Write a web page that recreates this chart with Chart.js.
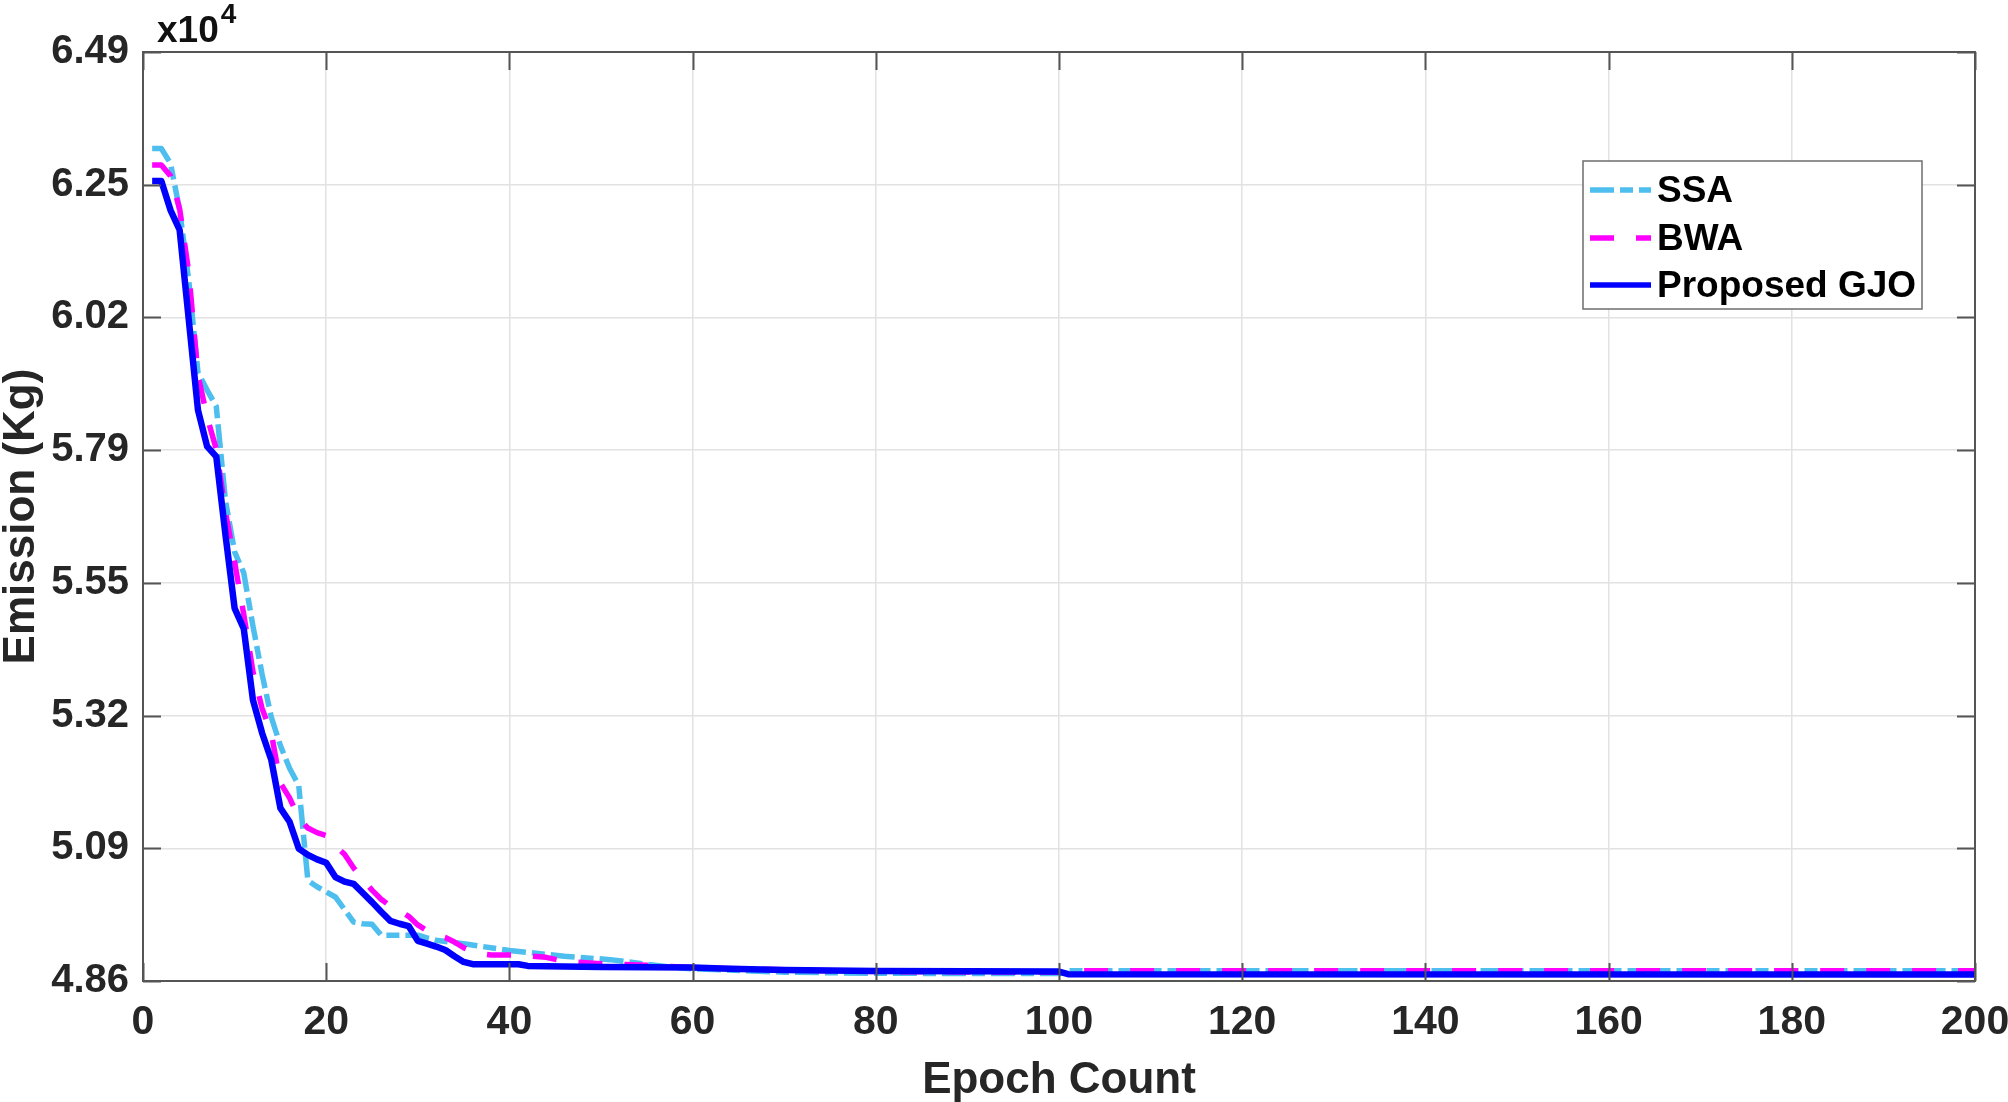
<!DOCTYPE html>
<html>
<head>
<meta charset="utf-8">
<title>Emission convergence</title>
<script src="https://cdn.jsdelivr.net/npm/chart.js@4.4.1/dist/chart.umd.min.js"></script>
<style>
  html, body { margin: 0; padding: 0; background: #fff; }
  #wrap { width: 2008px; height: 1102px; }
</style>
</head>
<body>
<div id="wrap"><canvas id="chart" width="2008" height="1102"></canvas></div>
<script>
"use strict";
// Emission (x10^4 Kg) vs epoch for three optimisers.

const yTickLabels = ["4.86", "5.09", "5.32", "5.55", "5.79", "6.02", "6.25", "6.49"];
const yMin = 4.8565, yMax = 6.4875;
const xMin = 0, xMax = 200, xStep = 20;

const ssaEpochs = [1, 2, 3, 4, 5, 6, 7, 8, 9, 10, 11, 12, 13, 14, 15, 16, 17, 18, 19, 20,
  21, 22, 23, 24, 25, 26, 30, 31, 32, 35, 40, 46, 51, 55, 58, 60, 70, 80, 100, 101, 200];
const ssaEmission = [6.318, 6.318, 6.292, 6.210, 6.085, 5.925, 5.894, 5.865, 5.700, 5.610,
  5.573, 5.480, 5.395, 5.320, 5.270, 5.230, 5.200, 5.033, 5.022, 5.013,
  5.004, 4.982, 4.960, 4.957, 4.956, 4.937, 4.937, 4.932, 4.928, 4.922, 4.910, 4.900, 4.894,
  4.886, 4.880, 4.878, 4.872, 4.870, 4.8695, 4.8745, 4.8745];

const bwaEpochs = [1, 2, 3, 4, 5, 6, 7, 8, 9, 10, 11, 12, 13, 14, 15, 16, 17, 18, 19, 20,
  21, 22, 23, 24, 25, 26, 27, 28, 29, 30, 31, 32, 33, 34, 35, 36, 37, 38, 41, 44, 46, 50,
  55, 60, 80, 100, 101, 200];
const bwaEmission = [6.289, 6.289, 6.270, 6.212, 6.100, 5.920, 5.847, 5.790, 5.680, 5.592,
  5.500, 5.400, 5.335, 5.292, 5.204, 5.178, 5.143, 5.125, 5.117, 5.112,
  5.094, 5.079, 5.055, 5.035, 5.016, 5.000, 4.988, 4.980, 4.970, 4.955, 4.945, 4.938, 4.933,
  4.925, 4.915, 4.908, 4.904, 4.902, 4.902, 4.898, 4.891, 4.887,
  4.884, 4.880, 4.873, 4.872, 4.8745, 4.8745];

const gjoEpochs = [1, 2, 3, 4, 5, 6, 7, 8, 9, 10, 11, 12, 13, 14, 15, 16, 17, 18, 19, 20,
  21, 22, 23, 24, 25, 26, 27, 28, 29, 30, 31, 32, 33, 34, 35, 36, 41, 42, 50, 60, 64, 70,
  80, 100, 101, 200];
const gjoEmission = [6.261, 6.261, 6.210, 6.175, 6.017, 5.859, 5.795, 5.777, 5.640, 5.511,
  5.475, 5.350, 5.292, 5.245, 5.160, 5.136, 5.089, 5.078, 5.070, 5.064,
  5.039, 5.031, 5.027, 5.011, 4.995, 4.978, 4.962, 4.957, 4.953, 4.927, 4.922, 4.917, 4.911,
  4.900, 4.890, 4.886, 4.886, 4.883, 4.881, 4.880, 4.878, 4.876,
  4.874, 4.873, 4.8685, 4.868];

const FONT = "'Liberation Sans', Arial, Helvetica, sans-serif";
const INK = "#262626", BOX = "#555555";

const pts = (xs, ys) => xs.map((x, i) => ({ x, y: ys[i] }));

// axes box, inward ticks, exponent label and the boxed legend (MATLAB look)
const frame = {
  id: "frame",
  afterDraw(chart) {
    const { ctx, chartArea: a, scales: { x, y } } = chart;
    ctx.save();
    ctx.strokeStyle = BOX; ctx.lineWidth = 2; ctx.setLineDash([]);
    ctx.strokeRect(a.left, a.top, a.right - a.left, a.bottom - a.top);
    const tk = 18;
    ctx.beginPath();
    x.ticks.forEach(t => {
      const px = Math.round(x.getPixelForValue(t.value)) + 0.5;
      ctx.moveTo(px, a.bottom); ctx.lineTo(px, a.bottom - tk);
      ctx.moveTo(px, a.top); ctx.lineTo(px, a.top + tk);
    });
    y.ticks.forEach(t => {
      const py = Math.round(y.getPixelForValue(t.value)) + 0.5;
      ctx.moveTo(a.left, py); ctx.lineTo(a.left + tk, py);
      ctx.moveTo(a.right, py); ctx.lineTo(a.right - tk, py);
    });
    ctx.stroke();

    // exponent
    ctx.fillStyle = "#111"; ctx.textBaseline = "alphabetic"; ctx.textAlign = "left";
    ctx.font = "bold 37px " + FONT;
    ctx.fillText("x10", 157, 42);
    const w = ctx.measureText("x10").width;
    ctx.font = "bold 28px " + FONT;
    ctx.fillText("4", 157 + w + 2, 23);

    // legend
    const L = { x: 1583, y: 161, w: 339, h: 148 };
    ctx.fillStyle = "#fff"; ctx.fillRect(L.x, L.y, L.w, L.h);
    ctx.strokeStyle = "#6e6e6e"; ctx.lineWidth = 1.5;
    ctx.strokeRect(L.x, L.y, L.w, L.h);
    const rows = [190, 238, 285];
    chart.data.datasets.forEach((ds, i) => {
      const cy = rows[i];
      ctx.beginPath();
      ctx.strokeStyle = ds.borderColor; ctx.lineWidth = Math.min(ds.borderWidth, 5.5);
      ctx.setLineDash(ds.borderDash || []);
      ctx.moveTo(1590, cy); ctx.lineTo(1651, cy);
      ctx.stroke();
      ctx.setLineDash([]);
      ctx.fillStyle = "#000"; ctx.textBaseline = "middle";
      ctx.font = "bold 37px " + FONT;
      ctx.fillText(ds.label, 1657, cy + 2);
    });
    ctx.restore();
  }
};

new Chart(document.getElementById("chart"), {
  type: "line",
  data: {
    datasets: [
      { label: "SSA", data: pts(ssaEpochs, ssaEmission), borderColor: "#4DBEEE", borderWidth: 5.5,
        borderDash: [24, 6, 13, 6], order: 3 },
      { label: "BWA", data: pts(bwaEpochs, bwaEmission), borderColor: "#FF00FF", borderWidth: 5.5,
        borderDash: [24, 22], order: 2 },
      { label: "Proposed GJO", data: pts(gjoEpochs, gjoEmission), borderColor: "#0000FF", borderWidth: 6.5,
        order: 1 }
    ]
  },
  options: {
    responsive: false, animation: false, devicePixelRatio: 1,
    elements: { point: { radius: 0 }, line: { tension: 0, fill: false, borderJoinStyle: "round" } },
    layout: { padding: { left: 0, top: 52, right: 33, bottom: 0 } },
    plugins: { legend: { display: false }, tooltip: { enabled: false } },
    scales: {
      x: {
        type: "linear", min: xMin, max: xMax,
        ticks: { stepSize: xStep, color: INK, padding: 17, maxRotation: 0, autoSkip: false,
          font: { family: FONT, size: 41, weight: "bold" } },
        grid: { color: "#e2e2e2", lineWidth: 1.5, drawTicks: false },
        border: { display: false },
        title: { display: true, text: "Epoch Count", color: INK, padding: { top: 0, bottom: -5 },
          font: { family: FONT, size: 44, weight: "bold" } },
        afterFit: s => { s.height = 121; s.paddingLeft = 0; s.paddingRight = 0; }
      },
      y: {
        type: "linear", min: yMin, max: yMax,
        afterBuildTicks: s => {
          s.ticks = yTickLabels.map((_, i) => ({ value: yMin + i * (yMax - yMin) / (yTickLabels.length - 1) }));
        },
        ticks: { color: INK, padding: 14, callback: (v, i) => yTickLabels[i],
          font: { family: FONT, size: 40, weight: "bold" } },
        grid: { color: "#e2e2e2", lineWidth: 1.5, drawTicks: false },
        border: { display: false },
        title: { display: true, text: "Emission (Kg)", color: INK, padding: { top: -5, bottom: 0 },
          font: { family: FONT, size: 44, weight: "bold" } },
        afterFit: s => { s.width = 143; s.paddingTop = 0; s.paddingBottom = 0; }
      }
    }
  },
  plugins: [frame]
});
</script>
</body>
</html>
